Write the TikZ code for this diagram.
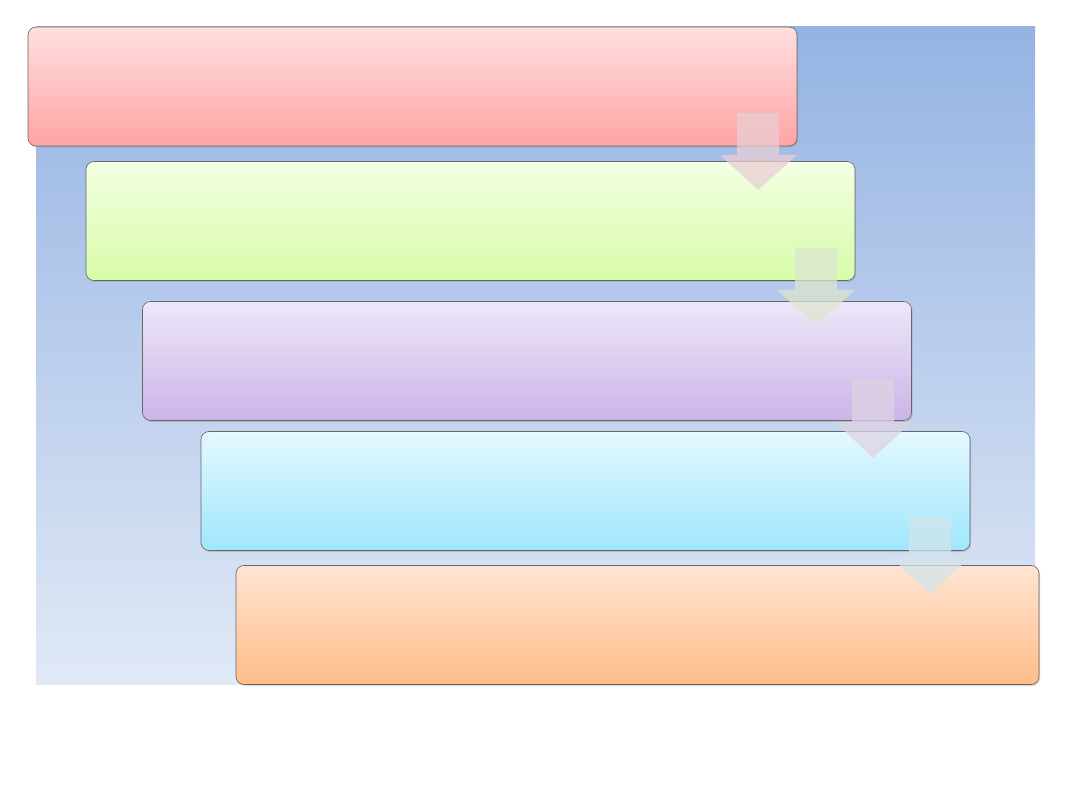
\documentclass[tikz,border=0pt]{standalone}
\usepackage[usenames,dvipsnames,svgnames]{xcolor}
\usepackage{tikz}
\usetikzlibrary{shapes,shadows}

\definecolor{bgtop}{HTML}{95B3E3}
\definecolor{bgbot}{HTML}{E1E9F6}
\definecolor{redtop}{HTML}{FFE0DF}
\definecolor{redbot}{HTML}{FFA3A3}
\definecolor{greentop}{HTML}{F3FFE3}
\definecolor{greenbot}{HTML}{D8FCA8}
\definecolor{violettop}{HTML}{EDE7F8}
\definecolor{violetbot}{HTML}{CBB4E8}
\definecolor{cyantop}{HTML}{E4F8FF}
\definecolor{cyanbot}{HTML}{9FE7FC}
\definecolor{orangetop}{HTML}{FFE4D2}
\definecolor{orangebot}{HTML}{FFBD89}
\definecolor{arrowred}{HTML}{E9CED3}
\definecolor{arrowgreen}{HTML}{DCE6CF}
\definecolor{arrowviolet}{HTML}{DDD3E3}
\definecolor{arrowcyan}{HTML}{D3E4EA}

\tikzset{
	stepbox/.style={rectangle,rounded corners=8pt,draw=black!60,line width=0.6pt,
		minimum width=769pt,minimum height=119pt,inner sep=0pt,
		drop shadow={opacity=0.3,shadow xshift=1.2pt,shadow yshift=-1.5pt}},
	flowarrow/.style={opacity=0.75,draw=none}
}

\begin{document}
\begin{tikzpicture}[x=1pt,y=-1pt]
	\useasboundingbox (0,0) rectangle (1080,810);
	\shade[top color=bgtop,bottom color=bgbot] (36,27) rectangle (1035,684);

	\node[stepbox,top color=redtop,bottom color=redbot] (A) at (412.5,86.5) {};
	\node[stepbox,top color=greentop,bottom color=greenbot] (B) at (470.5,221) {};
	\node[stepbox,top color=violettop,bottom color=violetbot] (C) at (527,361) {};
	\node[stepbox,top color=cyantop,bottom color=cyanbot] (D) at (585.5,491) {};
	\node[stepbox,minimum width=803pt,top color=orangetop,bottom color=orangebot] (E) at (637.5,625) {};

	\fill[flowarrow,arrowred] (737,113) -- (779,113) -- (779,155) -- (797,155)
		-- (758,190) -- (720,155) -- (737,155) -- cycle;
	\fill[flowarrow,arrowgreen] (795,248) -- (837,248) -- (837,290) -- (855,290)
		-- (816,325) -- (777,290) -- (795,290) -- cycle;
	\fill[flowarrow,arrowviolet] (852,380) -- (894,380) -- (894,422) -- (912,422)
		-- (873,458) -- (835,422) -- (852,422) -- cycle;
	\fill[flowarrow,arrowcyan] (909,516) -- (951,516) -- (951,558) -- (969,558)
		-- (930,594) -- (892,558) -- (909,558) -- cycle;
\end{tikzpicture}
\end{document}
